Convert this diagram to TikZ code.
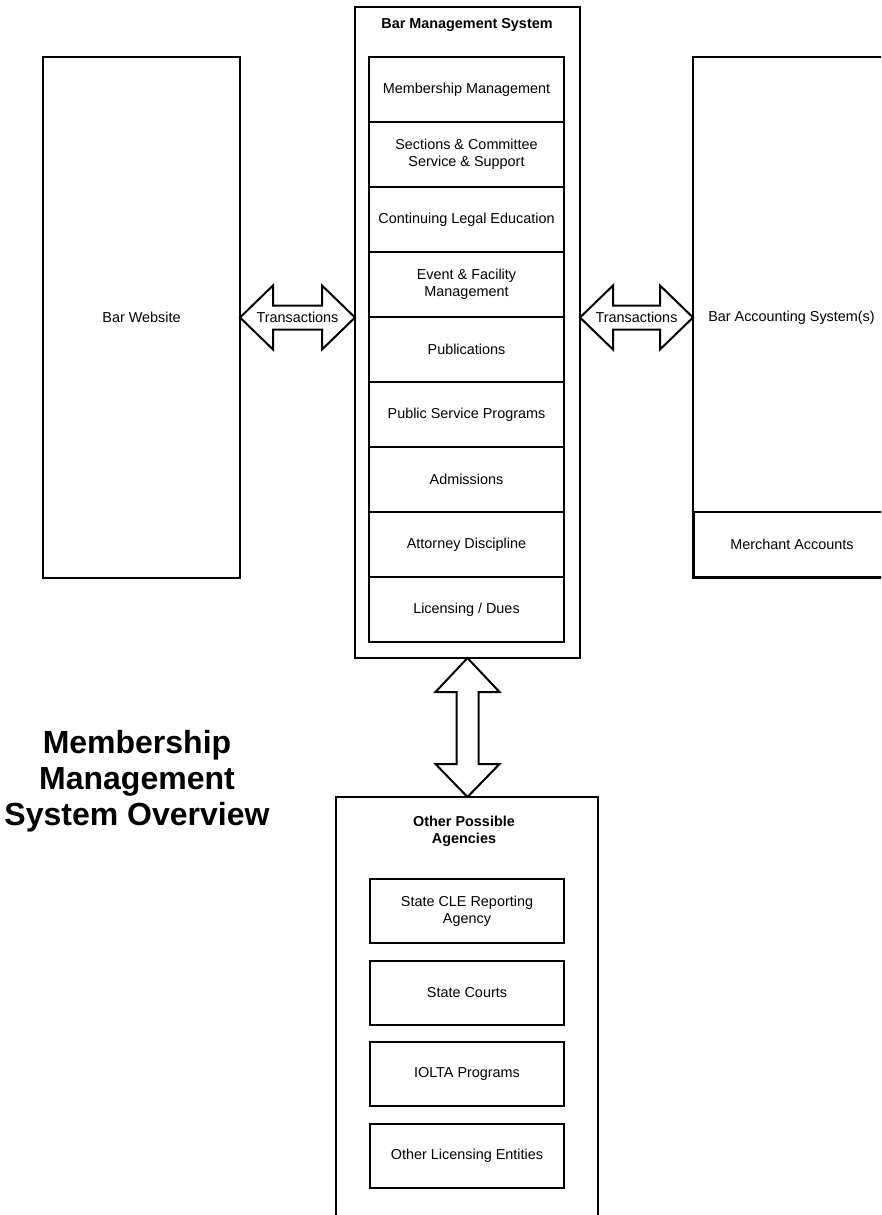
\documentclass[tikz,border=0pt]{standalone}
\usepackage{fontspec}
\setmainfont{Liberation Sans}
\usetikzlibrary{positioning,calc}

\begin{document}
\begin{tikzpicture}[x=1pt,y=-1pt,node distance=0pt,line width=2pt,
  every node/.style={font=\fontsize{14.4}{17}\selectfont}]
\tikzstyle{frame}=[rectangle,draw=black,outer sep=0pt,inner sep=0pt,align=center]
\tikzstyle{module}=[frame,minimum width=195pt,minimum height=65pt]
\tikzstyle{agency}=[frame,minimum width=194pt,minimum height=64pt]
\tikzstyle{fatarrow}=[draw=black,fill=white]
\tikzstyle{heading}=[font=\fontsize{14.4}{17}\selectfont\bfseries,align=center]
\useasboundingbox (0,0) rectangle (881,1215);
\clip (0,0) rectangle (881,1215);

% bar website and management system
\node[frame,minimum width=197pt,minimum height=521pt] (web) at (141.5,317.5) {Bar Website};
\node[frame,minimum width=225pt,minimum height=651pt] (bms) at (467.5,332.5) {};
\node[heading] (bmstitle) at (467,25) {Bar Management System};
\node[module] (mem) at (466.5,89.5) {Membership Management};
\node[module,below=of mem] (sec) {Sections \& Committee\\Service \& Support};
\node[module,below=of sec] (cle) {Continuing Legal Education};
\node[module,below=of cle] (event) {Event \& Facility\\Management};
\node[module,below=of event] (pub) {Publications};
\node[module,below=of pub] (psp) {Public Service Programs};
\node[module,below=of psp] (adm) {Admissions};
\node[module,below=of adm] (disc) {Attorney Discipline};
\node[module,below=of disc] (dues) {Licensing / Dues};

% accounting
\node[frame,minimum width=197pt,minimum height=521pt] (acct) at (791.5,317.5) {Bar Accounting System(s)};
\node[module,minimum width=196pt] (merch) at (792,544.5) {Merchant Accounts};

% other agencies
\node[frame,minimum width=262pt,minimum height=440pt,anchor=north] (other) at (467,797) {};
\node[heading] (othertitle) at (464,831) {Other Possible\\Agencies};
\node[agency] (clerep) at (467,911) {State CLE Reporting\\Agency};
\node[agency,below=17.5pt of clerep] (courts) {State Courts};
\node[agency,below=17.5pt of courts] (iolta) {IOLTA Programs};
\node[agency,below=17.5pt of iolta] (licent) {Other Licensing Entities};

\node[font=\fontsize{32}{36}\selectfont\bfseries,align=center] (title) at (137,781) {Membership\\Management\\System Overview};

% fat arrows
\draw[fatarrow] let \p1=(web.east), \p2=(bms.west |- web.east) in
  (\x1,\y1) -- (\x1+33pt,\y1+32pt) -- (\x1+33pt,\y1+12pt) -- (\x2-33pt,\y1+12pt) -- (\x2-33pt,\y1+32pt)
  -- (\x2,\y1) -- (\x2-33pt,\y1-32pt) -- (\x2-33pt,\y1-12pt) -- (\x1+33pt,\y1-12pt) -- (\x1+33pt,\y1-32pt) -- cycle;
\path (web.east) -- node (trleft) {Transactions} (bms.west |- web.east);
\draw[fatarrow] let \p1=(bms.east |- acct.west), \p2=(acct.west) in
  (\x1,\y1) -- (\x1+33pt,\y1+32pt) -- (\x1+33pt,\y1+12pt) -- (\x2-33pt,\y1+12pt) -- (\x2-33pt,\y1+32pt)
  -- (\x2,\y1) -- (\x2-33pt,\y1-32pt) -- (\x2-33pt,\y1-12pt) -- (\x1+33pt,\y1-12pt) -- (\x1+33pt,\y1-32pt) -- cycle;
\path (bms.east |- acct.west) -- node (trright) {Transactions} (acct.west);
\draw[fatarrow] let \p1=(bms.south), \p2=(other.north) in
  (\x1,\y1) -- (\x1+32pt,\y1-34pt) -- (\x1+11pt,\y1-34pt) -- (\x1+11pt,\y2+33pt) -- (\x1+32pt,\y2+33pt)
  -- (\x1,\y2) -- (\x1-32pt,\y2+33pt) -- (\x1-11pt,\y2+33pt) -- (\x1-11pt,\y1-34pt) -- (\x1-32pt,\y1-34pt) -- cycle;
\end{tikzpicture}
\end{document}
